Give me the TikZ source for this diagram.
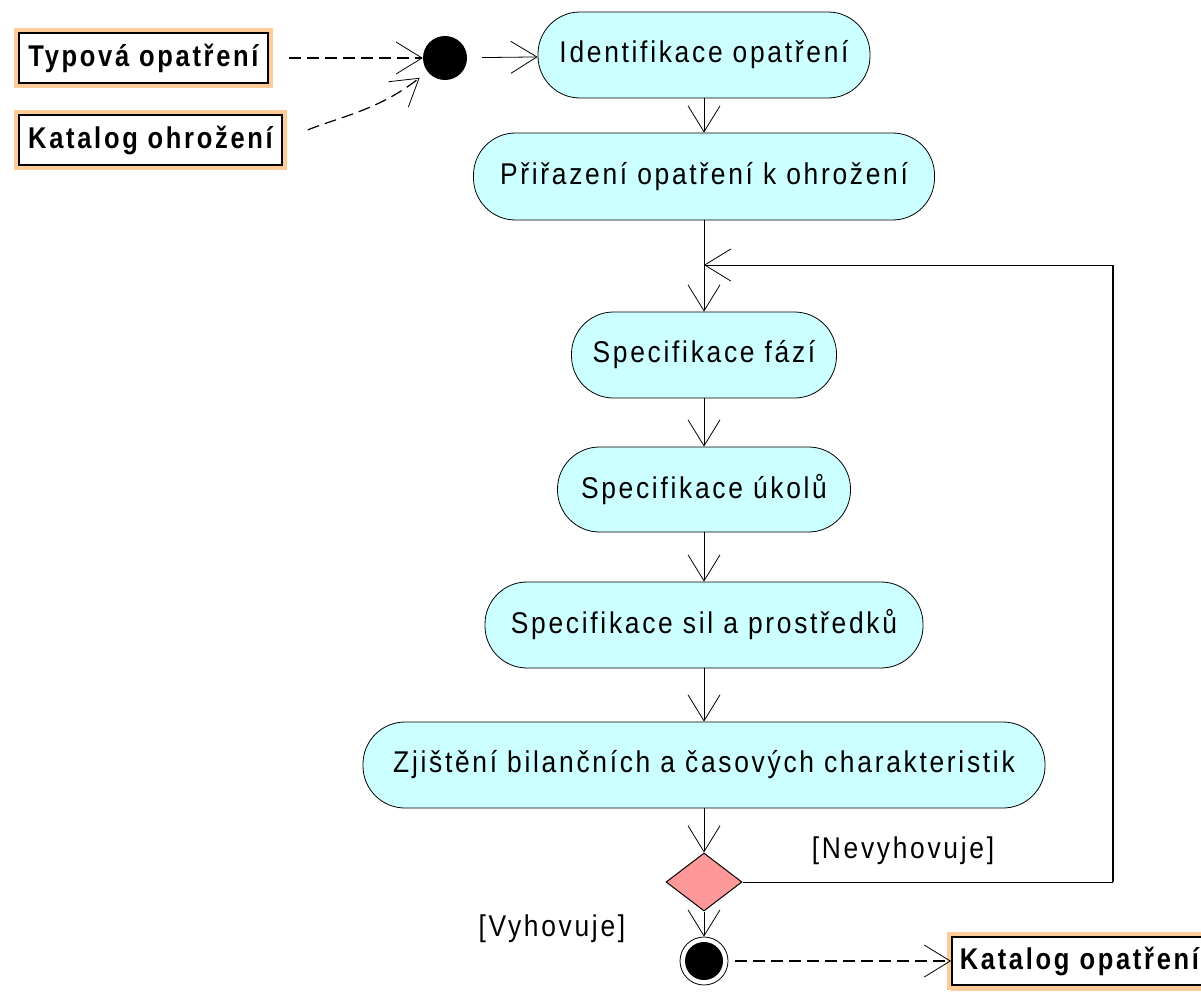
\documentclass[tikz,border=0pt]{standalone}
\usepackage{fontspec}
\setmainfont{Liberation Sans}
\newfontfamily\actfont[FakeStretch=0.88,LetterSpace=9]{Liberation Sans}
\newfontfamily\objfont[FakeStretch=0.85,LetterSpace=9]{Liberation Sans Bold}
\usetikzlibrary{arrows.meta,shapes.geometric}

\definecolor{actfill}{HTML}{CCFFFF}
\definecolor{objedge}{HTML}{FFCC99}
\definecolor{decfill}{HTML}{FF9999}

\begin{document}
\begin{tikzpicture}[x=1pt,y=-1pt,
  act/.style={draw, line width=0.8pt, fill=actfill, rounded corners=42pt,
    inner sep=0pt, font=\actfont\fontsize{30}{33}\selectfont},
  obj/.style={preaction={draw=objedge, line width=10pt}, draw, line width=1.6pt,
    fill=white, inner sep=0pt, font=\objfont\fontsize{30}{33}\selectfont},
  guard/.style={inner sep=0pt, font=\actfont\fontsize{30}{33}\selectfont},
  flow/.style={line width=0.8pt,
    -{Straight Barb[length=26pt,width=32pt,line width=0.8pt]}},
  plain/.style={line width=0.8pt},
  dashflow/.style={line width=1.2pt, dash pattern=on 12pt off 6pt,
    -{Straight Barb[length=26pt,width=32pt,line width=0.8pt]}},
]
\useasboundingbox (0,0) rectangle (1201,991);

% input objects
\node[obj, minimum width=249pt, minimum height=50pt] (typ) at (143.5,58) {Typová opatření};
\node[obj, minimum width=263pt, minimum height=50pt] (kat) at (150.5,140) {Katalog ohrožení};

% initial state
\node[circle, fill=black, minimum size=44pt, inner sep=0pt] (start) at (445,58) {};

% activities
\node[act, minimum width=332pt, minimum height=86pt] (ident) at (704,55) {Identifikace opatření};
\node[act, minimum width=461pt, minimum height=87pt] (prir) at (704,176.5) {Přiřazení opatření k ohrožení};
\node[act, minimum width=265pt, minimum height=86pt] (faze) at (704,355) {Specifikace fází};
\node[act, minimum width=293pt, minimum height=85pt] (ukol) at (704,489.5) {Specifikace úkolů};
\node[act, minimum width=438pt, minimum height=86pt] (sily) at (704,625) {Specifikace sil a prostředků};
\node[act, minimum width=682pt, minimum height=86pt] (zjist) at (704,765) {Zjištění bilančních a časových charakteristik};

% decision and final state
\node[diamond, draw, line width=1pt, fill=decfill, minimum width=76pt, minimum height=58pt, inner sep=0pt] (dec) at (704,882) {};
\node[circle, draw, line width=0.8pt, fill=white, minimum size=48pt, inner sep=0pt] (fin) at (704,961) {};
\fill[black] (fin.center) circle[radius=19pt];

% output object
\fill[objedge] (951,985) rectangle (1201,991);
\node[obj, preaction={}, minimum width=270pt, minimum height=48pt, anchor=west, text width=260pt, align=left] (kat3) at (951,961) {\hspace*{3pt}Katalog opatření};

% guards
\node[guard] (nev) at (903,851) {[Nevyhovuje]};
\node[guard] (vyh) at (552,929) {[Vyhovuje]};

% loop corners
\coordinate (loopA) at (1113,882);
\coordinate (loopB) at (1113,265);
\coordinate (merge) at (704,265);

% object flows
\draw[dashflow, shorten <=20pt] (typ) -- (start);
\draw[dashflow, shorten <=27pt, shorten >=10pt] (kat.east) to[out=22,in=218] (start.218);
\draw[dashflow, shorten <=7pt] (fin) -- (kat3);

% control flows
\draw[flow, shorten <=15pt] (start) -- (ident);
\draw[flow] (ident) -- (prir);
\draw[flow] (prir) -- (faze);
\draw[flow] (faze) -- (ukol);
\draw[flow] (ukol) -- (sily);
\draw[flow] (sily) -- (zjist);
\draw[flow] (zjist) -- (dec);
\draw[flow] (dec) -- (fin);
\draw[plain] (dec.east) -- (loopA);
\draw[line width=2pt] (loopA) -- (loopB);
\draw[flow] (loopB) -- (merge);
\end{tikzpicture}
\end{document}
